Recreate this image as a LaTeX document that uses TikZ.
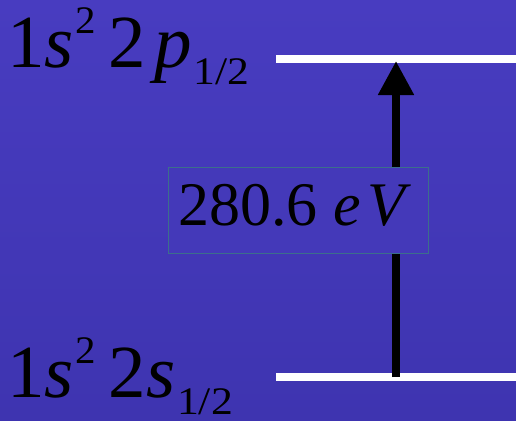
\documentclass[tikz,border=0pt]{standalone}
\usepackage{fontspec}
\setmainfont{Liberation Serif}
\usetikzlibrary{arrows.meta}
\definecolor{bgtop}{RGB}{72,60,192}
\definecolor{bgbot}{RGB}{62,52,176}
\definecolor{bgmid}{RGB}{68,57,185}
\definecolor{boxedge}{RGB}{60,110,140}
\tikzset{
  level/.style={draw=white, line width=8pt},
  lbl/.style={anchor=base west, inner sep=0pt, text=black, font=\fontsize{75}{75}\selectfont},
  valbox/.style={draw=boxedge, fill=bgmid, line width=1pt},
  trans/.style={draw=black, line width=8pt, -{Triangle[length=34pt,width=34pt]}}
}
\newcommand{\supx}[1]{\raisebox{34pt}{\scalebox{1.05}[1]{\fontsize{39}{39}\selectfont #1}}}
\newcommand{\subx}[1]{\raisebox{-17pt}{\scalebox{1.12}[1]{\fontsize{39}{39}\selectfont #1}}}
\begin{document}
\begin{tikzpicture}[x=1pt,y=-1pt]
  \shade[top color=bgtop, bottom color=bgbot] (0,0) rectangle (516,420);
  \useasboundingbox (0,0) rectangle (516,420);
  % levels
  \coordinate (pL) at (276,59);
  \coordinate (pR) at (516,59);
  \coordinate (sL) at (276,377);
  \coordinate (sR) at (516,377);
  \draw[level] (pL) -- (pR);
  \draw[level] (sL) -- (sR);
  % arrow
  \coordinate (aB) at (396,377);
  \coordinate (aT) at (396,61);
  \draw[trans] (aB) -- (aT);
  % labels
  \node[lbl] (plab) at (7,67) {1\textit{s}\hspace{2pt}\supx{2}\hspace{12pt}2\hspace{9pt}\textit{p}\hspace{1pt}\subx{1/2}};
  \node[lbl] (slab) at (7,397) {1\textit{s}\hspace{2pt}\supx{2}\hspace{12pt}2\hspace{1pt}\textit{s}\hspace{1pt}\subx{1/2}};
  % value box
  \node[valbox, minimum width=260pt, minimum height=86pt, inner sep=0pt] (box) at (298,210) {};
  \node[anchor=base west, inner sep=0pt, font=\fontsize{62}{62}\selectfont] (val) at (178,225) {280.6 \textit{e}\hspace{7pt}\textit{V}};
\end{tikzpicture}
\end{document}
